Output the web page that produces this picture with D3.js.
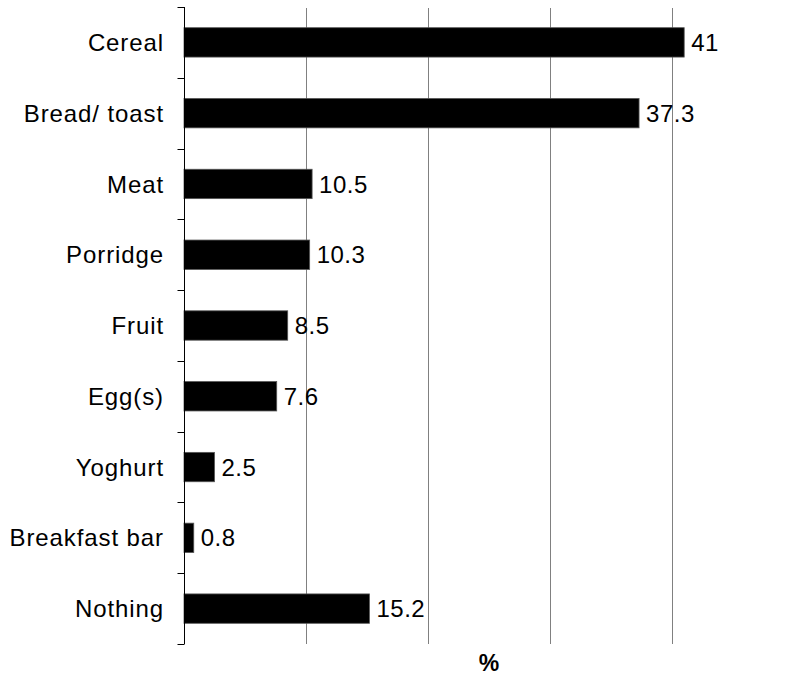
<!DOCTYPE html>
<meta charset="utf-8">
<style>
body { margin: 0; background: #fff; }
text { font-family: "Liberation Sans", Arial, sans-serif; }
</style>
<body>
<script src="https://d3js.org/d3.v7.min.js"></script>
<script>

var categories = ["Cereal", "Bread/ toast", "Meat", "Porridge", "Fruit", "Egg(s)", "Yoghurt", "Breakfast bar", "Nothing"];
var values = [41, 37.3, 10.5, 10.3, 8.5, 7.6, 2.5, 0.8, 15.2];
var xTicks = [10, 20, 30, 40];
var xLabel = "%";

var width = 786, height = 676;
var marginLeft = 184, marginTop = 7, plotH = 637;

var svg = d3.select("body").append("svg")
    .attr("width", width)
    .attr("height", height);

var x = d3.scaleLinear().domain([0, 50]).range([marginLeft, marginLeft + 610]);
var y = d3.scaleBand().domain(categories).range([marginTop, marginTop + plotH]).paddingInner(0.585).paddingOuter(0.2925);

// gridlines
svg.append("g").selectAll("line")
    .data(xTicks)
  .enter().append("line")
    .attr("x1", function(d) { return Math.round(x(d)) + 0.5; })
    .attr("x2", function(d) { return Math.round(x(d)) + 0.5; })
    .attr("y1", marginTop + 1)
    .attr("y2", marginTop + plotH)
    .attr("stroke", "#808080")
    .attr("stroke-width", 1);

// bars
svg.append("g").selectAll("rect")
    .data(values)
  .enter().append("rect")
    .attr("x", x(0))
    .attr("y", function(d, i) { return y(categories[i]); })
    .attr("width", function(d) { return x(d) - x(0); })
    .attr("height", y.bandwidth())
    .attr("fill", "#000")
    .attr("stroke", "#555")
    .attr("stroke-width", 0.8);

// value labels
svg.append("g").selectAll("text")
    .data(values)
  .enter().append("text")
    .attr("x", function(d) { return x(d) + 7; })
    .attr("y", function(d, i) { return y(categories[i]) + y.bandwidth() / 2; })
    .attr("dy", "0.36em")
    .attr("font-size", "24px")
    .attr("letter-spacing", "0.5px")
    .attr("fill", "#000")
    .text(function(d) { return d; });

// y axis with ticks between categories
var axisX = Math.round(x(0)) + 0.5;
var g = svg.append("g");
g.append("line")
    .attr("x1", axisX).attr("x2", axisX)
    .attr("y1", marginTop).attr("y2", marginTop + plotH)
    .attr("stroke", "#000");
var step = plotH / categories.length;
g.selectAll(".tick")
    .data(d3.range(categories.length + 1))
  .enter().append("line")
    .attr("class", "tick")
    .attr("x1", axisX - 7).attr("x2", axisX)
    .attr("y1", function(i) { return Math.round(marginTop + i * step) + 0.5; })
    .attr("y2", function(i) { return Math.round(marginTop + i * step) + 0.5; })
    .attr("stroke", "#000");

g.selectAll(".cat")
    .data(categories)
  .enter().append("text")
    .attr("class", "cat")
    .attr("x", 164)
    .attr("y", function(d) { return y(d) + y.bandwidth() / 2; })
    .attr("dy", "0.36em")
    .attr("text-anchor", "end")
    .attr("font-size", "24px")
    .attr("letter-spacing", "0.9px")
    .attr("fill", "#000")
    .text(function(d) { return d; });

svg.append("text")
    .attr("x", 489)
    .attr("y", 671)
    .attr("text-anchor", "middle")
    .attr("font-size", "23px")
    .attr("font-weight", "bold")
    .text(xLabel);

</script>
</body>
